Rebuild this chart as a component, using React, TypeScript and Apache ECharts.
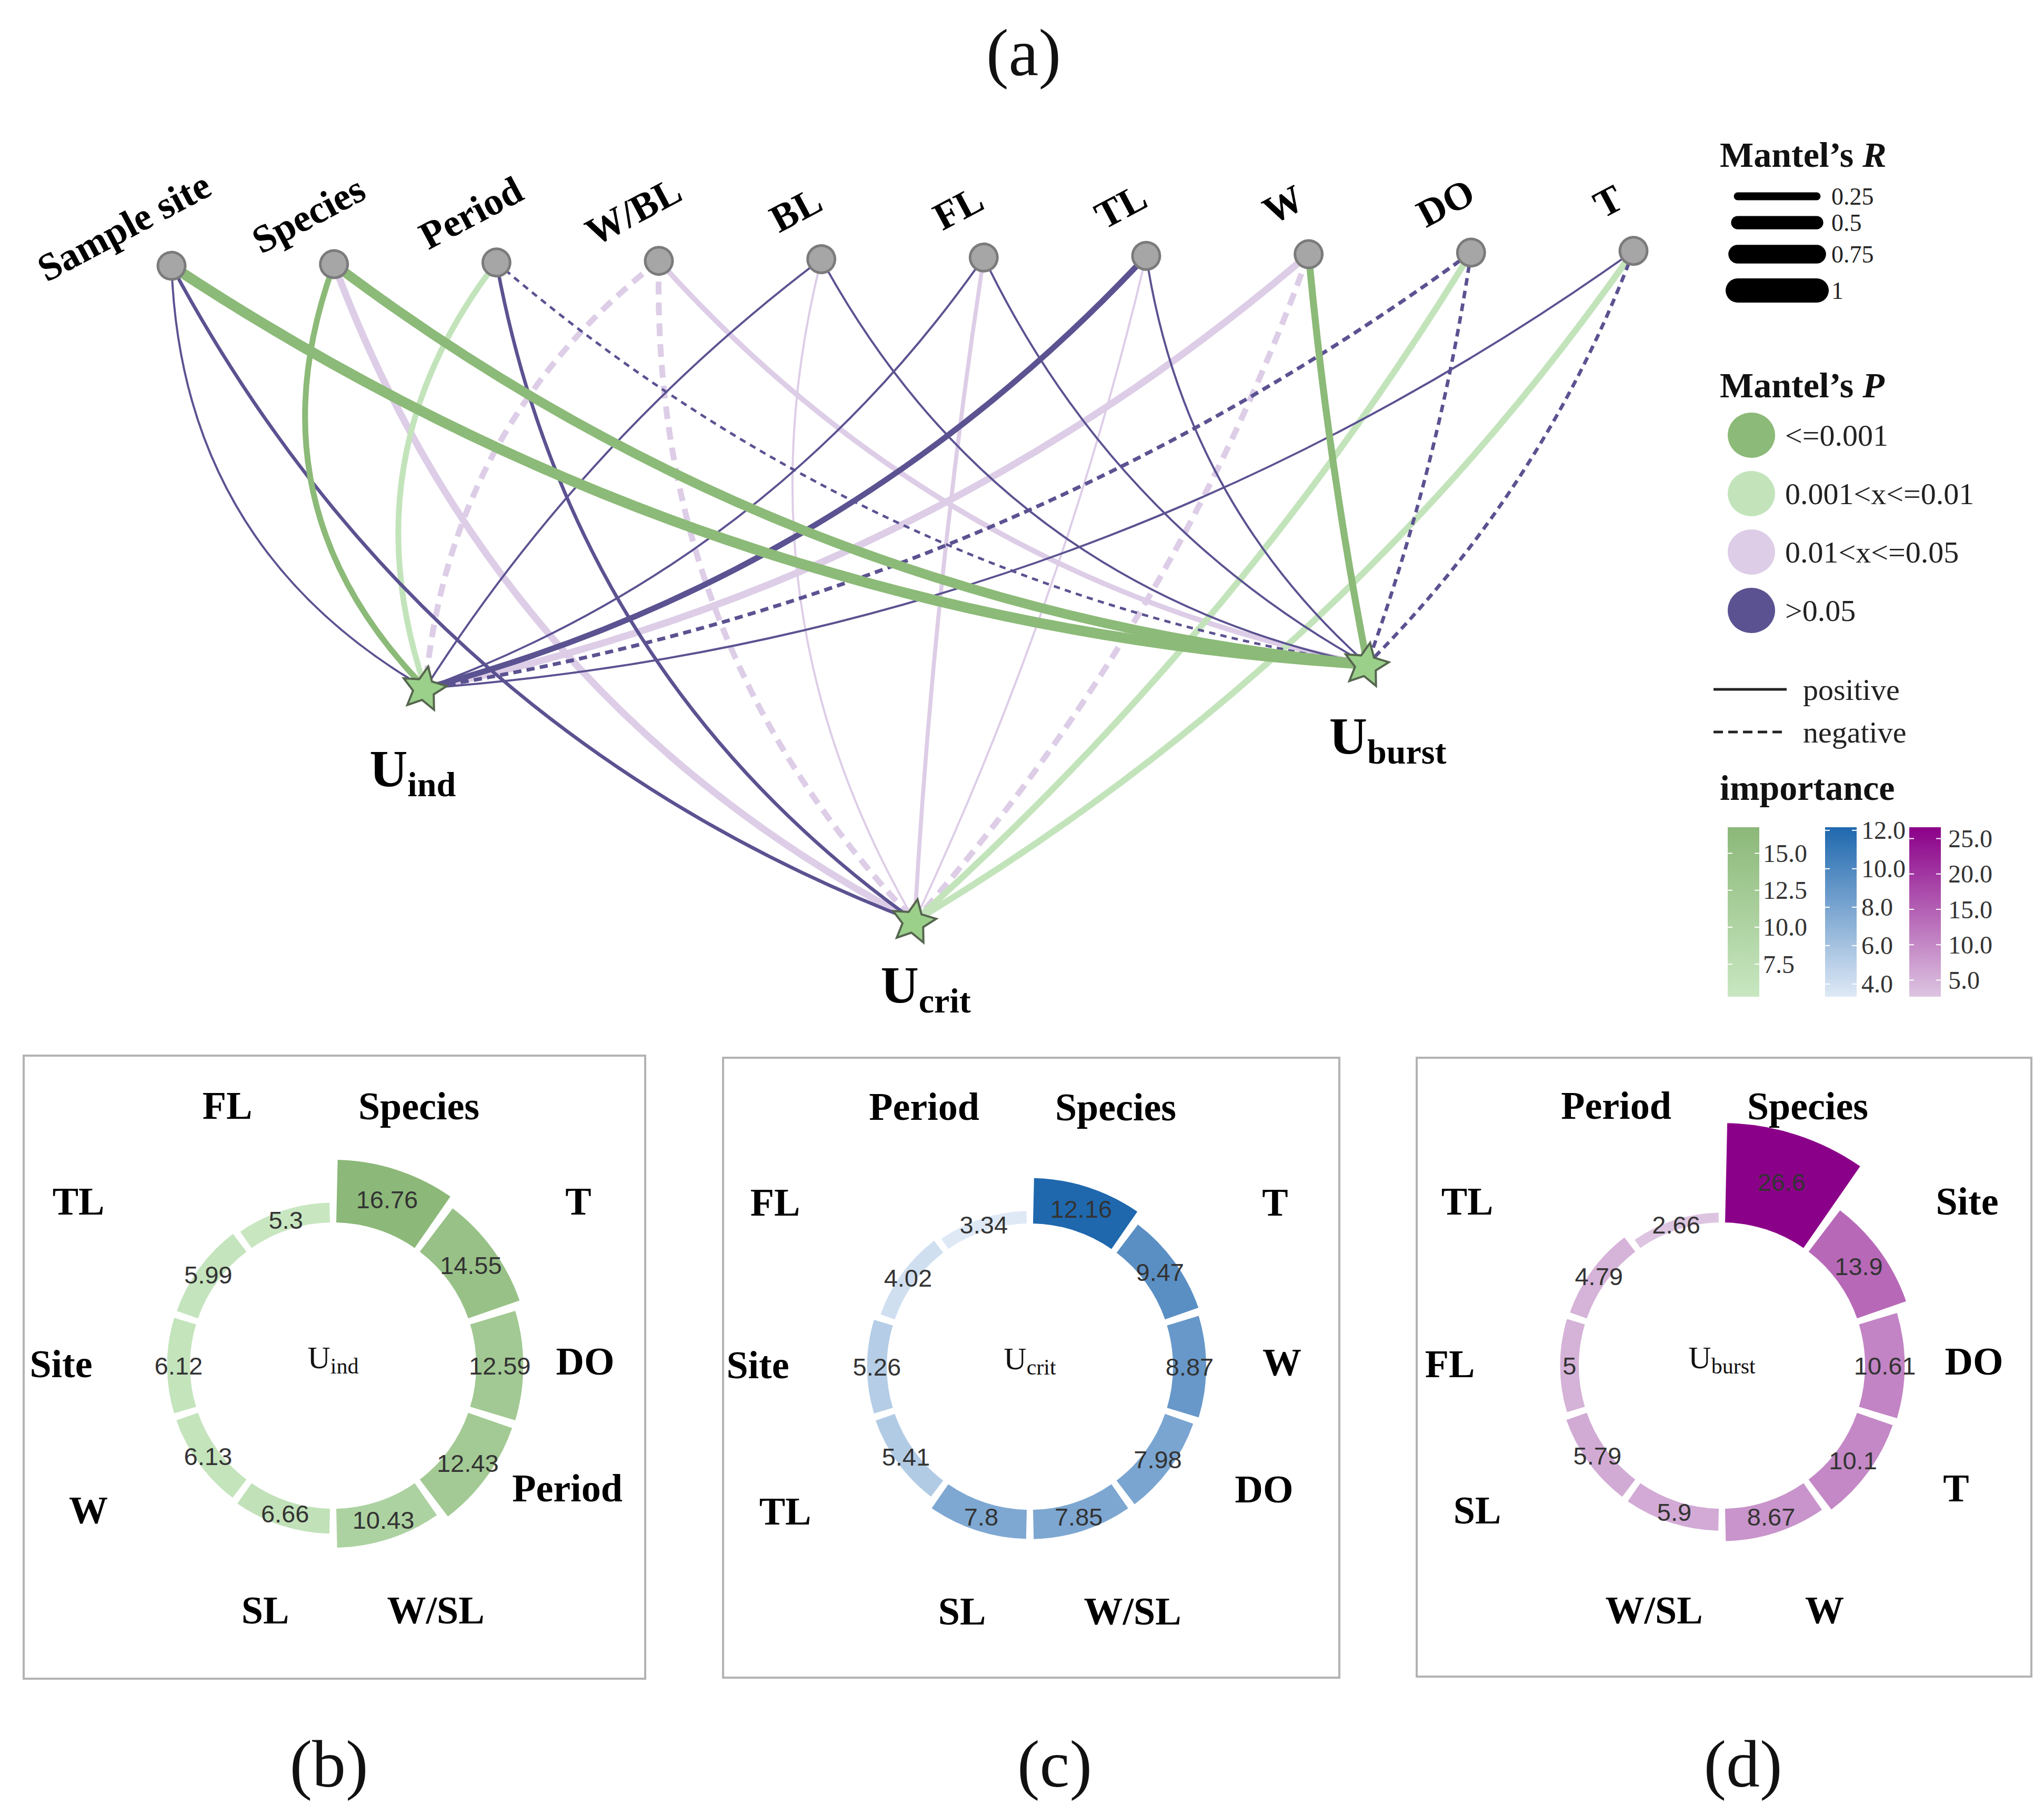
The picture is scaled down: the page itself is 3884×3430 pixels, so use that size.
import React, { useEffect, useRef } from 'react';
import * as echarts from 'echarts';

const CHART_W = 3884;
const CHART_H = 3430;
const SERIF = '"Liberation Serif", "Times New Roman", serif';
const SANS = '"Liberation Sans", Arial, sans-serif';

// ---------------- (a) Mantel network data ----------------
const envFactors = ['Sample site', 'Species', 'Period', 'W/BL', 'BL', 'FL', 'TL', 'W', 'DO', 'T'];
const responses = ['Uind', 'Ucrit', 'Uburst'];
const responseSub = ['ind', 'crit', 'burst'];

// Mantel's R (one value per environmental factor)
const mantelR_Uind = [0.18, 0.5, 0.5, 0.5, 0.18, 0.18, 0.5, 0.6, 0.32, 0.18];
const mantelR_Ucrit = [0.3, 0.6, 0.3, 0.5, 0.18, 0.35, 0.18, 0.5, 0.55, 0.55];
const mantelR_Uburst = [0.9, 0.82, 0.22, 0.45, 0.18, 0.18, 0.18, 0.6, 0.3, 0.3];

// Mantel's P class: 0 <=0.001, 1 0.001<x<=0.01, 2 0.01<x<=0.05, 3 >0.05
const pClass_Uind = [3, 0, 1, 2, 3, 3, 3, 2, 3, 3];
const pClass_Ucrit = [3, 2, 3, 2, 2, 2, 2, 2, 1, 1];
const pClass_Uburst = [0, 0, 3, 2, 3, 3, 3, 0, 3, 3];

// sign of correlation: 1 positive, -1 negative
const sign_Uind = [1, 1, 1, -1, 1, 1, 1, 1, -1, 1];
const sign_Ucrit = [1, 1, 1, -1, 1, 1, 1, -1, 1, 1];
const sign_Uburst = [1, 1, -1, 1, 1, 1, 1, 1, -1, -1];

const pClassNames = ['<=0.001', '0.001<x<=0.01', '0.01<x<=0.05', '>0.05'];
const mantelRLegend = [0.25, 0.5, 0.75, 1];

// ---------------- (b)-(d) importance data ----------------
const impCats_Uind = ['Species', 'T', 'DO', 'Period', 'W/SL', 'SL', 'W', 'Site', 'TL', 'FL'];
const impVals_Uind = [16.76, 14.55, 12.59, 12.43, 10.43, 6.66, 6.13, 6.12, 5.99, 5.3];
const impCats_Ucrit = ['Species', 'T', 'W', 'DO', 'W/SL', 'SL', 'TL', 'Site', 'FL', 'Period'];
const impVals_Ucrit = [12.16, 9.47, 8.87, 7.98, 7.85, 7.8, 5.41, 5.26, 4.02, 3.34];
const impCats_Uburst = ['Species', 'Site', 'DO', 'T', 'W', 'W/SL', 'SL', 'FL', 'TL', 'Period'];
const impVals_Uburst = [26.6, 13.9, 10.61, 10.1, 8.67, 5.9, 5.79, 5, 4.79, 2.66];

const impTicks_Uind = [15.0, 12.5, 10.0, 7.5];
const impTicks_Ucrit = [12.0, 10.0, 8.0, 6.0, 4.0];
const impTicks_Uburst = [25.0, 20.0, 15.0, 10.0, 5.0];

// ---------------- layout / style (not data) ----------------
const NET_GRID = { left: 326, top: 490, width: 2778, height: 1260 };
const topRowY = (i: number) => 0.012 - 0.0025 * i;
const topLabelOffset = (i: number) => (i === 0 ? [-88, -72] : [-46, -92]);
const responsePos = [
  [1.562, 0.649],
  [4.575, 1.0],
  [7.361, 0.613],
];
const responseLabelOffset = [
  [-22, 161],
  [23, 130],
  [41, 145],
];
const curveness_Uind = [-0.277, -0.315, -0.268, -0.216, -0.09, 0.157, 0.144, 0.129, 0.121, 0.14];
const curveness_Ucrit = [-0.186, -0.192, -0.202, -0.207, -0.204, -0.024, 0.052, 0.095, 0.073, 0.107];
const curveness_Uburst = [-0.134, -0.142, -0.142, -0.167, -0.231, -0.159, -0.18, -0.025, 0.05, 0.108];
const pColors = ['#8cba78', '#c3e4bb', '#ddcde7', '#5b5291'];
const WIDTH_PER_R = 22;

const roseCenters = [
  [633, 2595],
  [1957, 2597],
  [3272, 2595],
];
const ROSE_R0 = 272;
const ROSE_PX_PER_UNIT = 7.1;
const ROSE_AXIS_MAX = 50;
// category label slots around each ring (offset from ring centre, clockwise from top)
const roseLabelSlots = [
  [163, -493],
  [466, -312],
  [479, -8],
  [445, 233],
  [195, 465],
  [-129, 465],
  [-465, 275],
  [-517, -3],
  [-484, -312],
  [-201, -494],
];
const rampColors = [
  ['#c8e7c1', '#8cb879'],
  ['#dfe9f6', '#1f68ae'],
  ['#ddc5e1', '#8b0089'],
];
const frames = [
  [45, 2006, 1181, 1184],
  [1374, 2010, 1171, 1178],
  [2692, 2010, 1168, 1176],
];
const panelTags = [
  ['(a)', 1945, 100],
  ['(b)', 625, 3352],
  ['(c)', 2004, 3352],
  ['(d)', 3312, 3352],
];

const starSymbol = (() => {
  const pts: string[] = [];
  for (let k = 0; k < 10; k++) {
    const r = k % 2 === 0 ? 50 : 24;
    const a = -Math.PI / 2 + 0.18 + (k * Math.PI) / 5;
    pts.push(`${(r * Math.cos(a)).toFixed(2)} ${(r * Math.sin(a)).toFixed(2)}`);
  }
  return 'path://M' + pts.join(' L') + ' Z';
})();

function buildOption() {
  const R = [mantelR_Uind, mantelR_Ucrit, mantelR_Uburst];
  const P = [pClass_Uind, pClass_Ucrit, pClass_Uburst];
  const S = [sign_Uind, sign_Ucrit, sign_Uburst];
  const C = [curveness_Uind, curveness_Ucrit, curveness_Uburst];
  const drawOrder = [3, 1, 0, 2];

  const raw: any[] = [];
  responses.forEach((resp, j) =>
    envFactors.forEach((env, i) =>
      raw.push({ env, resp, r: R[j][i], p: P[j][i], s: S[j][i], c: C[j][i] })
    )
  );
  raw.sort((a, b) => drawOrder[a.p] - drawOrder[b.p]);
  const links = raw.map((l) => {
    const w = l.r * WIDTH_PER_R;
    return {
      source: l.env,
      target: l.resp,
      lineStyle: {
        color: pColors[l.p],
        width: w,
        opacity: 1,
        curveness: l.c,
        type: l.s > 0 ? 'solid' : [Math.max(12, 2.2 * w), Math.max(10, 1.4 * w)],
      },
    };
  });

  const nodes: any[] = [
    ...envFactors.map((n, i) => ({
      name: n,
      value: [i, topRowY(i)],
      symbol: 'circle',
      symbolSize: 52,
      itemStyle: { color: '#a6a6a6', borderColor: '#7b7b7b', borderWidth: 5 },
      label: {
        show: true,
        position: [26 + topLabelOffset(i)[0], 26 + topLabelOffset(i)[1]],
        align: 'center',
        verticalAlign: 'middle',
        rotate: 28,
        fontFamily: SERIF,
        fontWeight: 'bold',
        fontSize: 74,
        color: '#000',
        formatter: n,
      },
    })),
    ...responses.map((t, j) => ({
      name: t,
      value: responsePos[j],
      symbol: starSymbol,
      symbolSize: 82,
      itemStyle: { color: '#9bd08b', borderColor: '#56664f', borderWidth: 4 },
      label: {
        show: true,
        position: [41 + responseLabelOffset[j][0], 41 + responseLabelOffset[j][1]],
        align: 'center',
        verticalAlign: 'middle',
        formatter: `{u|U}{s|${responseSub[j]}}`,
        rich: {
          u: { fontFamily: SERIF, fontWeight: 'bold', fontSize: 100, lineHeight: 100, verticalAlign: 'top', color: '#000' },
          s: { fontFamily: SERIF, fontWeight: 'bold', fontSize: 66, padding: [47, 0, 0, 0], verticalAlign: 'top', color: '#000' },
        },
      },
    })),
  ];

  const cats = [impCats_Uind, impCats_Ucrit, impCats_Uburst];
  const vals = [impVals_Uind, impVals_Ucrit, impVals_Uburst];
  const ticks = [impTicks_Uind, impTicks_Ucrit, impTicks_Uburst];

  const polar = roseCenters.map((c) => ({
    center: [c[0], c[1]],
    radius: [ROSE_R0, ROSE_R0 + ROSE_PX_PER_UNIT * ROSE_AXIS_MAX],
  }));
  const angleAxis = [0, 1, 2].map((k) => ({
    polarIndex: k,
    type: 'category',
    data: cats[k],
    startAngle: 90,
    clockwise: true,
    axisLine: { show: false },
    axisTick: { show: false },
    axisLabel: { show: false },
    splitLine: { show: false },
  }));
  const radiusAxis = [0, 1, 2].map((k) => ({
    polarIndex: k,
    type: 'value',
    min: 0,
    max: ROSE_AXIS_MAX,
    axisLine: { show: false },
    axisTick: { show: false },
    axisLabel: { show: false },
    splitLine: { show: false },
  }));

  const barSeries = [0, 1, 2].map((k) => ({
    type: 'bar',
    coordinateSystem: 'polar',
    polarIndex: k,
    barCategoryGap: '7%',
    data: vals[k].map((v, i) => [v, i]),
    label: {
      show: true,
      position: 'middle',
      rotate: 0,
      formatter: (p: any) => String(p.value[0]),
      fontFamily: SANS,
      fontSize: 47,
      color: '#333',
    },
    silent: true,
  }));

  const visualMap = [0, 1, 2].map((k) => ({
    type: 'continuous',
    show: false,
    seriesIndex: 1 + k,
    dimension: 0,
    min: Math.min(...vals[k]),
    max: Math.max(...vals[k]),
    inRange: { color: rampColors[k] },
  }));

  // ---------- graphic ----------
  const g: any[] = [];
  panelTags.forEach(([t, x, y]) =>
    g.push({
      type: 'text',
      x,
      y,
      style: { text: t, fontFamily: SERIF, fontSize: 128, fill: '#111', align: 'center', verticalAlign: 'middle' },
    })
  );
  frames.forEach(([x, y, w, h]) =>
    g.push({ type: 'rect', shape: { x, y, width: w, height: h }, style: { fill: 'none', stroke: '#b3b3b3', lineWidth: 4 } })
  );
  roseCenters.forEach((c, k) => {
    g.push({
      type: 'text',
      x: c[0],
      y: c[1] - 12,
      style: {
        text: `{u|U}{s|${responseSub[k]}}`,
        align: 'center',
        verticalAlign: 'middle',
        rich: {
          u: { fontFamily: SERIF, fontSize: 60, lineHeight: 60, verticalAlign: 'top', fill: '#111' },
          s: { fontFamily: SERIF, fontSize: 42, padding: [25, 0, 0, 0], verticalAlign: 'top', fill: '#111' },
        },
      },
    });
    cats[k].forEach((name, i) =>
      g.push({
        type: 'text',
        x: c[0] + roseLabelSlots[i][0],
        y: c[1] + roseLabelSlots[i][1],
        style: {
          text: name,
          fontFamily: SERIF,
          fontWeight: 'bold',
          fontSize: 74,
          fill: '#000',
          align: 'center',
          verticalAlign: 'middle',
        },
      })
    );
  });

  // legend
  const LX = 3268;
  const titleRich = (title: string, italic: string, y: number) =>
    g.push({
      type: 'text',
      x: LX,
      y,
      style: {
        text: italic ? `{a|${title}}{b|${italic}}` : `{a|${title}}`,
        align: 'left',
        verticalAlign: 'middle',
        rich: {
          a: { fontFamily: SERIF, fontWeight: 'bold', fontSize: 68, fill: '#111' },
          b: { fontFamily: SERIF, fontWeight: 'bold', fontStyle: 'italic', fontSize: 68, fill: '#111' },
        },
      },
    });
  titleRich('Mantel’s ', 'R', 294);
  titleRich('Mantel’s ', 'P', 732);
  titleRich('importance', '', 1497);

  const legRowY = [373, 423, 483, 552];
  const legendLineW = (r: number) => 4.5 + 41.5 * r;
  mantelRLegend.forEach((r, k) => {
    const w = legendLineW(r);
    g.push({
      type: 'line',
      shape: { x1: 3302, y1: legRowY[k], x2: 3452, y2: legRowY[k] },
      style: { stroke: '#000', lineWidth: w, lineCap: 'round' },
    });
    g.push({
      type: 'text',
      x: 3480,
      y: legRowY[k],
      style: { text: String(r), fontFamily: SERIF, fontSize: 46, fill: '#222', align: 'left', verticalAlign: 'middle' },
    });
  });

  pClassNames.forEach((name, k) => {
    const y = 827 + 111 * k;
    g.push({ type: 'ellipse', shape: { cx: 3328, cy: y, rx: 45, ry: 43 }, style: { fill: pColors[k] } });
    g.push({
      type: 'text',
      x: 3392,
      y,
      style: { text: name, fontFamily: SERIF, fontSize: 58, fill: '#222', align: 'left', verticalAlign: 'middle' },
    });
  });

  [
    ['positive', 1310, null],
    ['negative', 1391, [18, 10]],
  ].forEach(([name, y, dash]: any) => {
    g.push({
      type: 'line',
      shape: { x1: 3256, y1: y, x2: 3395, y2: y },
      style: { stroke: '#222', lineWidth: 5, lineDash: dash || undefined },
    });
    g.push({
      type: 'text',
      x: 3426,
      y,
      style: { text: name, fontFamily: SERIF, fontSize: 58, fill: '#222', align: 'left', verticalAlign: 'middle' },
    });
  });

  const barX = [3283, 3468, 3628];
  const barLabelX = [3350, 3537, 3702];
  const BAR_TOP = 1572;
  const BAR_H = 322;
  const BAR_W = 60;
  [0, 1, 2].forEach((k) => {
    const mn = Math.min(...vals[k]);
    const mx = Math.max(...vals[k]);
    g.push({
      type: 'rect',
      shape: { x: barX[k], y: BAR_TOP, width: BAR_W, height: BAR_H },
      style: {
        fill: new echarts.graphic.LinearGradient(0, 0, 0, 1, [
          { offset: 0, color: rampColors[k][1] },
          { offset: 1, color: rampColors[k][0] },
        ]),
      },
    });
    ticks[k].forEach((t) => {
      const y = BAR_TOP + ((mx - t) / (mx - mn)) * BAR_H;
      g.push({ type: 'line', shape: { x1: barX[k], y1: y, x2: barX[k] + 9, y2: y }, style: { stroke: '#fff', lineWidth: 2 } });
      g.push({
        type: 'line',
        shape: { x1: barX[k] + BAR_W - 9, y1: y, x2: barX[k] + BAR_W, y2: y },
        style: { stroke: '#fff', lineWidth: 2 },
      });
      g.push({
        type: 'text',
        x: barLabelX[k],
        y,
        style: { text: t.toFixed(1), fontFamily: SERIF, fontSize: 48, fill: '#333', align: 'left', verticalAlign: 'middle' },
      });
    });
  });

  return {
    animation: false,
    backgroundColor: '#fff',
    grid: { left: NET_GRID.left, top: NET_GRID.top, width: NET_GRID.width, height: NET_GRID.height },
    xAxis: { type: 'value', min: 0, max: 9, show: false },
    yAxis: { type: 'value', min: 0, max: 1, inverse: true, show: false },
    polar,
    angleAxis,
    radiusAxis,
    visualMap,
    series: [
      {
        type: 'graph',
        coordinateSystem: 'cartesian2d',
        xAxisIndex: 0,
        yAxisIndex: 0,
        silent: true,
        edgeSymbol: ['none', 'none'],
        data: nodes,
        links,
        z: 3,
      },
      ...barSeries,
    ],
    graphic: g,
  };
}

export default function App() {
  const ref = useRef<HTMLDivElement>(null);
  useEffect(() => {
    document.body.style.margin = '0';
    const chart = echarts.init(ref.current as HTMLDivElement, null, { renderer: 'svg' });
    chart.setOption(buildOption() as any);
    return () => chart.dispose();
  }, []);
  return <div ref={ref} style={{ width: CHART_W, height: CHART_H, background: '#fff' }} />;
}
